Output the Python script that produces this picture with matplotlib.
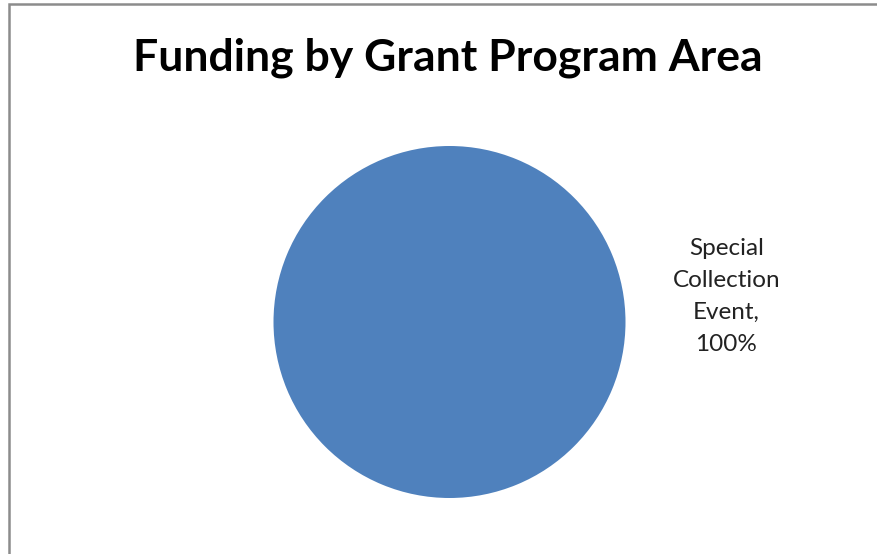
import matplotlib
matplotlib.use("Agg")
import matplotlib.pyplot as plt
from matplotlib.patches import Rectangle

# chart data
categories = ["Special Collection Event"]
funding_share = [100]
title_text = "Funding by Grant Program Area"

W, H = 878, 554
fig = plt.figure(figsize=(W / 100, H / 100), dpi=100)
fig.patch.set_facecolor("white")

# outer chart border (right/bottom edges fall outside the crop)
fig.patches.append(Rectangle((9 / W, -0.05), 1.1, (H - 4) / H + 0.05,
                             transform=fig.transFigure, fill=False,
                             edgecolor="#8c8c8c", linewidth=1.8))

ax = fig.add_axes([0, 0, 1, 1])

cx, cy, r = 449.5, H - 322, 176
total = sum(funding_share)
labels = [f"{c.replace(' ', chr(10))},\n{v / total * 100:.0f}%"
          for c, v in zip(categories, funding_share)]

wedges, texts = ax.pie(funding_share, labels=labels, colors=["#4f81bd"],
                       center=(cx, cy), radius=r, startangle=185.2,
                       labeldistance=1.58, frame=True,
                       textprops=dict(fontsize=17.5, family="Lato", color="#222222",
                                      ha="center", multialignment="center"))
for t in texts:
    t.set_linespacing(1.65)

ax.set_xlim(0, W)
ax.set_ylim(0, H)
ax.set_aspect("equal")
ax.axis("off")

fig.text(448 / W, 1 - 58 / H, title_text, ha="center", va="center",
         fontsize=32, fontweight="bold", family="Lato", color="black")

fig.savefig("out.png", dpi=100)
